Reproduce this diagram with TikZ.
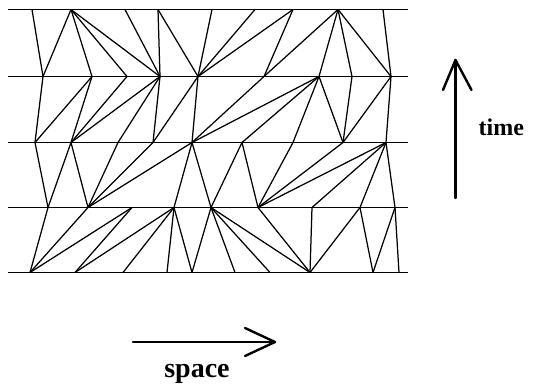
\documentclass[tikz,border=0pt]{standalone}
\usepackage{fontspec}
\setmainfont{Liberation Serif}
\begin{document}
\begin{tikzpicture}[x=1pt,y=-1pt,
  slab/.style={line width=1.3pt},
  meshedge/.style={line width=1.25pt},
  axis/.style={line width=2.4pt,line cap=round,line join=round},
  axislabel/.style={inner sep=0pt,font=\bfseries\fontsize{24}{26}\selectfont}]
\useasboundingbox (0,0) rectangle (544,385);
% slab boundary end points
\foreach \n/\y in {1/9.5,2/76.5,3/142.5,4/207.5,5/272.5}{
  \coordinate (L\n) at (8,\y);
  \coordinate (R\n) at (408,\y);
}
% vertices on the time levels
\foreach \n/\x in {1/32,2/71,3/125,4/158,5/212,6/255,7/293,8/338,9/383}
  \coordinate (a\n) at (\x,9.5);
\foreach \n/\x in {1/43,2/92,3/127,4/160,5/198,6/264,7/319,8/352,9/391}
  \coordinate (b\n) at (\x,76.5);
\foreach \n/\x in {1/35,2/71,3/118,4/153,5/192,6/242,7/293,8/343,9/386}
  \coordinate (c\n) at (\x,142.5);
\foreach \n/\x in {1/48,2/88,3/132,4/174,5/211,6/258,7/312,8/360,9/395}
  \coordinate (d\n) at (\x,207.5);
\foreach \n/\x in {1/30,2/75,3/123,4/167,5/192,6/235,7/270,8/310,9/373,10/399}
  \coordinate (e\n) at (\x,272.5);
% time levels
\foreach \n in {1,...,5} \draw[slab] (L\n) -- (R\n);
% mesh edges
\foreach \u/\v in {a1/b1,a2/b1,a2/b2,a2/b3,a2/b4,a3/b4,a4/b4,a4/b5,a5/b5,a6/b5,a7/b5,a7/b6,a8/b6,a8/b7,a8/b8,a8/b9,a9/b9,
  b1/c1,b2/c1,b2/c2,b3/c2,b4/c2,b4/c3,b4/c4,b5/c4,b5/c5,b6/c5,b7/c5,b7/c6,b7/c7,b7/c8,b8/c8,b9/c8,b9/c9,
  c1/d1,c2/d1,c2/d2,c3/d2,c4/d2,c5/d2,c5/d4,c5/d5,c6/d5,c6/d6,c7/d6,c8/d6,c9/d6,c9/d7,c9/d8,c9/d9,
  d1/e1,d2/e1,d3/e1,d3/e2,d4/e2,d4/e3,d4/e4,d4/e5,d5/e5,d5/e6,d5/e7,d5/e8,d6/e8,d7/e8,d8/e8,d8/e9,d9/e9,d9/e10}
  \draw[meshedge] (\u) -- (\v);
% time arrow
\coordinate (tbot) at (455.5,198);
\coordinate (ttip) at (455.5,60);
\coordinate (tl) at (443,90);
\coordinate (tr) at (471.5,90);
\draw[axis] (tbot) -- (ttip);
\draw[axis] (tl) -- (ttip) -- (tr);
\node[axislabel,anchor=base west] (timelabel) at (478.5,136) {time};
% space arrow
\coordinate (sleft) at (133,342);
\coordinate (stip) at (275,342);
\coordinate (su) at (245,328);
\coordinate (sd) at (245,356);
\draw[axis] (sleft) -- (stip);
\draw[axis] (su) -- (stip) -- (sd);
\node[axislabel,anchor=base,font=\bfseries\fontsize{28}{30}\selectfont] (spacelabel) at (197,377) {space};
\end{tikzpicture}
\end{document}
